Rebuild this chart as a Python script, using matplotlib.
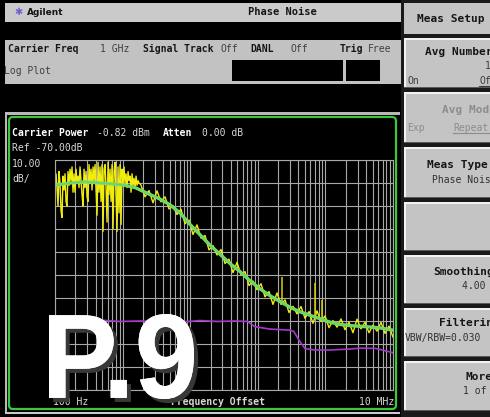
import matplotlib.pyplot as plt
import matplotlib.patches as patches
import matplotlib.patheffects as pe
from matplotlib.textpath import TextPath
from matplotlib.font_manager import FontProperties
from matplotlib.transforms import Affine2D

# Smoothed trace (green), offset frequency in Hz and level in dBc/Hz
smoothed_freq = [100, 167, 278, 463, 774, 1088, 1530, 2150, 2544, 3576, 5027, 7067, 9934,
                 13960, 19630, 27590, 38780, 54520, 76640, 107700, 151400, 212900, 299200,
                 420600, 591200, 831100, 1168000, 1642000, 2309000, 3245000, 4562000,
                 6413000, 10000000]
smoothed_db = [-81, -80, -79.5, -80, -80.5, -81, -82, -84, -85, -87, -89.5, -93, -98,
               -102.5, -107, -111, -115, -118.5, -122.5, -126, -129, -131.5, -134,
               -136, -137.5, -139, -140.5, -141.5, -142, -142.3, -142.6, -143, -144]

# Raw trace (yellow)
raw_freq = [100, 103.5, 107.1, 110.8, 114.6, 118.6, 122.7, 127.0, 131.4, 135.9,
            140.6, 145.5, 150.6, 155.8, 161.2, 166.8, 172.6, 178.6, 184.8, 191.2,
            197.8, 204.7, 211.8, 219.1, 226.7, 234.6, 242.7, 251.1, 259.8, 268.8,
            278.2, 287.8, 297.8, 308.1, 318.8, 329.8, 341.3, 353.1, 365.3, 378.0,
            391.1, 404.7, 418.7, 433.2, 448.2, 463.7, 479.8, 496.4, 513.6, 531.4,
            549.9, 568.9, 588.6, 609.0, 630.1, 652.0, 674.6, 697.9, 722.1, 747.2,
            773.1, 799.8, 827.6, 856.3, 885.9, 916.6, 948.4, 981.3, 1015, 1050,
            1087, 1125, 1164, 1204, 1246, 1289, 1334, 1380, 1428, 1477,
            1528, 1581, 1636, 1693, 1751,
            1872, 2145, 2458, 2817, 3228, 3699, 4239, 4858, 5567, 6379,
            7310, 8378, 9600, 11000, 12610, 14450, 16560, 18970, 21740, 24910,
            28550, 32720, 37500, 42970, 49240, 56430, 64680, 74110, 84920, 97320,
            111500, 127800, 146500, 167800, 192300, 220400, 252600, 289400, 331700, 380100,
            435600, 499200, 572000, 655500, 751200, 860800, 986500, 1131000, 1295000, 1485000,
            1701000, 1950000, 2234000, 2560000, 2934000, 3362000, 3853000, 4416000, 5059000, 5798000,
            6644000, 7615000, 8727000, 10000000]
raw_db = [-84, -76, -82, -90, -75, -80, -92, -95, -77, -83,
          -76, -88, -90, -75, -81, -74, -79, -73, -84, -76,
          -84, -74, -80, -77, -82, -73, -79, -85, -90, -74,
          -82, -75, -86, -88, -72, -80, -74, -83, -73, -79,
          -72, -83, -94, -71, -84, -73, -88, -72, -101, -74,
          -72, -82, -97, -71, -85, -74, -88, -72, -100, -75,
          -71, -86, -101, -73, -93, -72, -98, -74, -81, -73,
          -80, -76, -82, -75, -79, -77, -84, -76, -81, -78,
          -82, -77, -81, -79, -80,
          -80.9, -86, -83.3, -88.6, -83.4, -88.2, -86, -91.3, -89.8, -93.7,
          -91.4, -97.7, -96.1, -102.4, -98.2, -104, -102.8, -109.1, -107.2, -111.3,
          -108.9, -115, -113.1, -119, -114.5, -119.9, -118.5, -124.6, -122.6, -126.4,
          -123.8, -129.5, -127.2, -132.8, -127.8, -132.8, -130.8, -136.3, -133.6, -136.9,
          -133.7, -138.8, -135.9, -141, -135.6, -140.2, -137.8, -142.9, -139.8, -142.7,
          -139.1, -143.8, -140.5, -145.1, -139.2, -143.4, -140.5, -145.1, -141.8, -144.4,
          -140.6, -145.4, -142.2, -147]

# Spurs on the raw trace
spur_freq = [228000, 702000, 891000]
spur_top = [-121, -123.5, -131]
spur_base = [-132, -138, -139.5]

# Reference trace (purple)
ref_freq = [100, 250, 463, 900, 1800, 3500, 7070, 14000, 25000, 46000, 70000, 91000,
            151000, 299000, 340000, 420000, 500000, 700000, 1170000, 2310000, 3250000,
            5500000, 10000000]
ref_db = [-139.5, -139.2, -139.6, -140.2, -140, -140.3, -140.5, -139.8, -140.2, -140,
          -140.2, -142.5, -143.5, -144, -144.5, -149, -152, -152.6, -152.6, -152.2,
          -151.8, -151.9, -153.8]

ref_level = -70
db_per_div = 10

mono = 'DejaVu Sans Mono'
key_gray = '#c4c4c4'

fig = plt.figure(figsize=(4.9, 4.17), dpi=100, facecolor='black')

# Screen chrome drawn in pixel coordinates
ui = fig.add_axes([0, 0, 1, 1])
ui.set_xlim(0, 490)
ui.set_ylim(417, 0)
ui.axis('off')


def rect(x0, y0, x1, y1, color, **kw):
    ui.add_patch(patches.Rectangle((x0, y0), x1 - x0, y1 - y0, facecolor=color,
                                   edgecolor=kw.pop('edgecolor', 'none'), **kw))


def label(x, y, s, bold=False, color='#151515', size=7, ha='left', ax=None):
    (ax or ui).text(x, y, s, fontsize=size, family=mono, color=color, ha=ha, va='center',
                    fontweight='bold' if bold else 'normal')


# title bar
rect(5, 3, 401, 22, '#cacaca')
ui.text(18, 12, '\u2731', fontsize=7, color='#7060d0', ha='center', va='center')
ui.text(27, 12, 'Agilent', fontsize=6.5, fontweight='bold', color='#151515', va='center')
label(248, 12, 'Phase Noise', bold=True, size=7.5)

# measurement info bar
rect(5, 40, 401, 84, '#c2c2c2')
label(8, 49, 'Carrier Freq', bold=True)
label(100, 49, '1 GHz', color='#404040')
label(143, 49, 'Signal Track', bold=True)
label(220, 49, 'Off', color='#404040')
label(250, 49, 'DANL', bold=True)
label(290, 49, 'Off', color='#404040')
label(340, 49, 'Trig', bold=True)
label(368, 49, 'Free', color='#404040')
label(4, 71, 'Log Plot', color='#404040')
rect(232, 60, 343, 81, 'black')
rect(346, 60, 380, 81, 'black')

# plot panel
rect(5, 112, 400, 115, '#b8b8b8')
rect(5, 115, 7, 412, '#b8b8b8')
rect(5, 412, 400, 414, '#c8c8c8')
ui.add_patch(patches.FancyBboxPatch((9, 117), 387, 292, boxstyle='round,pad=0,rounding_size=4',
                                    facecolor='black', edgecolor='#3cc83c', linewidth=1.6))
label(12, 133, 'Carrier Power', bold=True, color='white')
label(97, 133, '-0.82 dBm', color='#d8d8d8')
label(163, 133, 'Atten', bold=True, color='white')
label(202, 133, '0.00 dB', color='#d8d8d8')
label(12, 148, 'Ref -70.00dB', color='#d8d8d8')
label(12, 164, '10.00', color='#d8d8d8')
label(12, 179, 'dB/', color='#d8d8d8')
label(53, 402, '100 Hz', color='#d8d8d8')
label(218, 402, 'Frequency Offset', bold=True, color='#d8d8d8', ha='center')
label(394, 402, '10 MHz', color='#d8d8d8', ha='right')

# softkey column
rect(401, 0, 490, 417, '#1a1a1a')
rect(404, 3, 490, 34, key_gray)
label(417, 19, 'Meas Setup', bold=True, size=8)
keys = [(38, 88), (92, 143), (147, 198), (202, 251), (255, 304), (308, 357), (361, 411)]
for top, bottom in keys:
    rect(404, top, 490, bottom, key_gray)
    rect(404, top, 490, top + 1.5, '#f2f2f2')
    rect(404, top, 405.5, bottom, '#f2f2f2')
    rect(404, bottom - 1.5, 490, bottom, '#5a5a5a')

label(425, 52, 'Avg Number', bold=True, size=8)
label(485, 66, '10', color='#404040')
label(407, 81, 'On', color='#404040')
label(479, 81, 'Off', color='#404040')
ui.plot([479, 490], [86, 86], color='#404040', lw=0.8)
label(442, 110, 'Avg Mode', bold=True, size=8, color='#8c8c8c')
label(407, 128, 'Exp', color='#8c8c8c')
label(453, 128, 'Repeat', color='#8c8c8c')
ui.plot([453, 490], [133, 133], color='#8c8c8c', lw=0.8)
label(427, 165, 'Meas Type', bold=True, size=8)
label(432, 180, 'Phase Noise', color='#303030')
label(433, 272, 'Smoothing', bold=True, size=8)
label(462, 286, '4.00 %', color='#303030')
label(439, 323, 'Filtering', bold=True, size=8)
label(405, 338, 'VBW/RBW=0.030', color='#303030')
label(465, 377, 'More', bold=True, size=8)
label(463, 391, '1 of 2', color='#303030')

# the log plot itself
ax = fig.add_axes([55 / 490, 1 - 390 / 417, 338 / 490, 230 / 417])
ax.set_facecolor('black')
ax.set_xscale('log')
ax.set_xlim(100, 1e7)
ax.set_ylim(ref_level - 10 * db_per_div, ref_level)
ax.set_yticks(range(ref_level - 10 * db_per_div, ref_level + 1, db_per_div))
ax.grid(which='both', axis='x', color='#a8a8a8', lw=0.8)
ax.grid(which='major', axis='y', color='#a8a8a8', lw=0.8)
ax.tick_params(which='both', length=0, labelbottom=False, labelleft=False)
for s in ax.spines.values():
    s.set_color('#a8a8a8')
    s.set_linewidth(0.8)

ax.plot(ref_freq, ref_db, color='#a438c8', lw=1.2)
ax.plot(raw_freq, raw_db, color='#f0ec10', lw=1.0)
ax.vlines(spur_freq, spur_base, spur_top, color='#d8d000', lw=1.1)
ax.plot(smoothed_freq, smoothed_db, color='#84dc48', lw=2.4)
ax.plot(smoothed_freq, smoothed_db, color='#52d0a0', lw=0.7)

# big overlay caption, squeezed to the box it fills on the screen
over = fig.add_axes([0, 0, 1, 1], zorder=5)
over.set_xlim(0, 490)
over.set_ylim(417, 0)
over.axis('off')
tp = TextPath((0, 0), 'P.9', size=100, prop=FontProperties(family='Liberation Sans', weight='bold'))
ext = tp.get_extents()
fit = (Affine2D().translate(-ext.x0, -ext.y0)
       .scale(145 / ext.width, -85 / ext.height).translate(49, 399))
over.add_patch(patches.PathPatch(fit.transform_path(tp), facecolor='white', edgecolor='none',
                                 path_effects=[pe.withSimplePatchShadow(offset=(3, -3),
                                                                        shadow_rgbFace='#383838',
                                                                        alpha=1),
                                               pe.Normal()]))

fig.savefig('out.png', dpi=100, facecolor='black')
